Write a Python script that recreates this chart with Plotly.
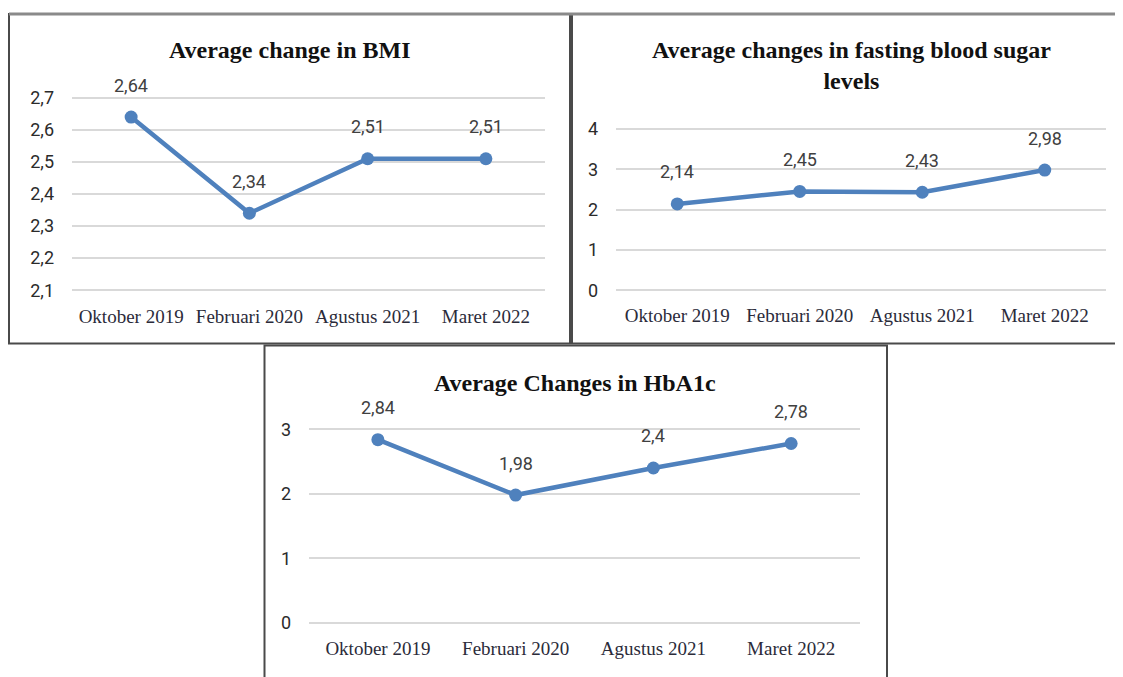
import plotly.graph_objects as go

categories = ["Oktober 2019", "Februari 2020", "Agustus 2021", "Maret 2022"]
bmi = [2.64, 2.34, 2.51, 2.51]
fbs = [2.14, 2.45, 2.43, 2.98]
hba1c = [2.84, 1.98, 2.4, 2.78]

titles = ["Average change in BMI",
          "Average changes in fasting blood sugar<br>levels",
          "Average Changes in HbA1c"]

# page has an 8px body margin; figure sized to fit the viewport exactly
OFF = 8
W, H = 1123 - OFF, 677 - OFF
BLUE = "#4F81BD"
GRID = "#D9D9D9"
LBL = "#404040"
SANS = "Roboto"
SERIF = "Liberation Serif"


def px(x):
    return (x - OFF) / W


def py(y):
    return 1 - (y - OFF) / H


def ydom(v_lo, p_lo, v_hi, p_hi, r0, r1):
    s = (p_lo - p_hi) / (v_hi - v_lo)
    bot = p_lo + (v_lo - r0) * s
    top = p_hi - (r1 - v_hi) * s
    return [py(bot), py(top)]


panels = [
    dict(data=bmi, xdom=[px(72), px(545)], r=[2.08, 2.72], t0=2.1, dt=0.1,
         ydom=ydom(2.1, 289, 2.7, 94, 2.08, 2.72)),
    dict(data=fbs, xdom=[px(616), px(1106)], r=[-0.15, 4.15], t0=0, dt=1,
         ydom=ydom(0, 289, 4, 125.5, -0.15, 4.15)),
    dict(data=hba1c, xdom=[px(309), px(860)], r=[-0.1, 3.1], t0=0, dt=1,
         ydom=ydom(0, 626, 3, 430, -0.1, 3.1)),
]

fig = go.Figure()
annotations = []
layout_axes = {}
for i, p in enumerate(panels, start=1):
    xa = "x" if i == 1 else f"x{i}"
    ya = "y" if i == 1 else f"y{i}"
    fig.add_trace(go.Scatter(
        x=categories, y=p["data"], xaxis=xa, yaxis=ya,
        mode="lines+markers",
        line=dict(color=BLUE, width=4.5),
        marker=dict(color=BLUE, size=13),
        cliponaxis=False, showlegend=False, hoverinfo="skip"))
    for c, v in zip(categories, p["data"]):
        annotations.append(dict(
            x=c, y=v, xref=xa, yref=ya, yshift=32, showarrow=False,
            text=f"{v}".replace(".", ","), xanchor="center", yanchor="middle",
            font=dict(family=SANS, size=18, color=LBL)))
    xkey = "xaxis" if i == 1 else f"xaxis{i}"
    ykey = "yaxis" if i == 1 else f"yaxis{i}"
    layout_axes[xkey] = dict(
        domain=p["xdom"], anchor=ya, type="category",
        categoryorder="array", categoryarray=categories,
        range=[-0.5, 3.5], showgrid=False, showline=False, zeroline=False,
        ticks="", ticklabelstandoff=6,
        tickfont=dict(family=SERIF, size=19, color="#2b2b3a"))
    layout_axes[ykey] = dict(
        domain=p["ydom"], anchor=xa, range=p["r"], tick0=p["t0"], dtick=p["dt"],
        tickmode="linear", showgrid=True, gridcolor=GRID, gridwidth=2,
        zeroline=False, showline=False, ticks="", ticklabelstandoff=17,
        tickfont=dict(family=SANS, size=18, color="#2b2b2b"))

# titles
title_pos = [(290, 45), (851, 61), (575, 383)]
for t, (tx, ty) in zip(titles, title_pos):
    annotations.append(dict(
        x=px(tx), y=py(ty), xref="paper", yref="paper", showarrow=False,
        text=f"<b>{t}</b>", xanchor="center", yanchor="middle",
        font=dict(family=SERIF, size=24, color="#111111")))

# panel borders
boxes = [(9, 9, 570, 343), (572, 9, 1121, 343), (264.5, 345, 887, 700)]
shapes = []
for (x0, y0, x1, y1) in boxes:
    shapes.append(dict(type="rect", xref="paper", yref="paper",
                       x0=px(x0), x1=px(x1), y0=py(y1), y1=py(y0),
                       line=dict(color="#4a4a4a", width=2),
                       fillcolor="rgba(0,0,0,0)", layer="above"))
# heavier grey top edge of the upper panels
shapes.append(dict(type="line", xref="paper", yref="paper",
                   x0=px(9), x1=px(1121), y0=py(9), y1=py(9),
                   line=dict(color="#8a8a8a", width=3), layer="above"))

fig.update_layout(
    width=W, height=H, margin=dict(l=0, r=0, t=0, b=0),
    paper_bgcolor="white", plot_bgcolor="white",
    separators=",.", annotations=annotations, shapes=shapes,
    **layout_axes)

fig.write_html("out.html")
